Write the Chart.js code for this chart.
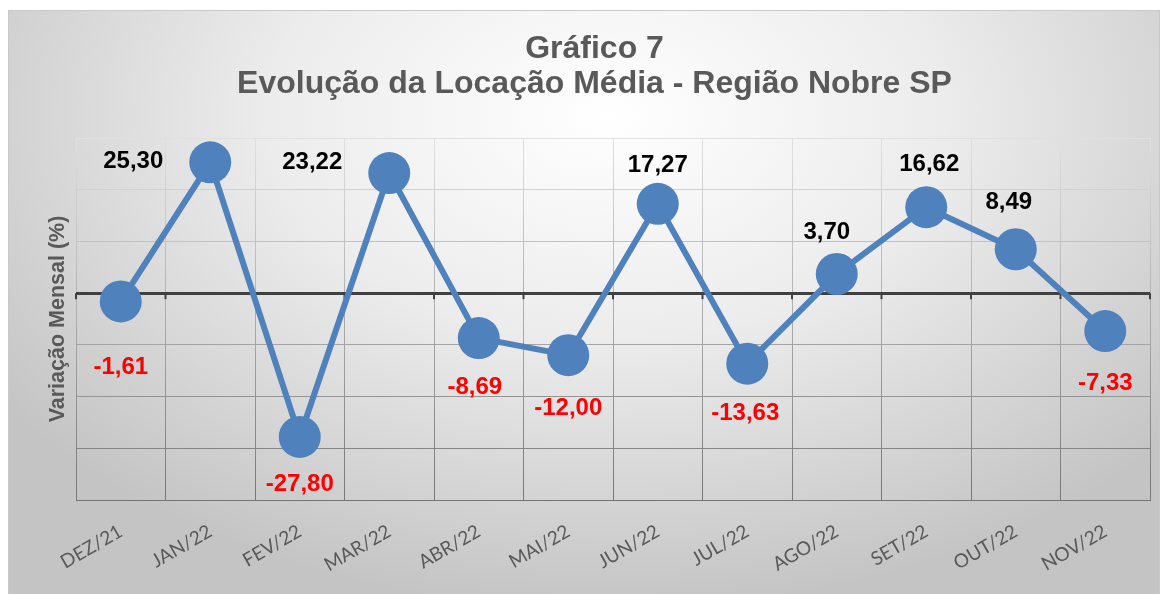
<!DOCTYPE html>
<html>
<head>
<meta charset="utf-8">
<script src="https://cdn.jsdelivr.net/npm/chart.js@4.4.0/dist/chart.umd.min.js"></script>
<style>
html, body { margin: 0; padding: 0; background: #ffffff; }
#box {
    position: absolute; left: 8px; top: 10px; width: 1152px; height: 584px;
    box-sizing: border-box; border: 1px solid #c9c9c9; border-bottom: none;
    background: radial-gradient(ellipse 65% 85% at 52% 18%, #ffffff 0%, #ececec 45%, #c4c4c4 100%);
}
</style>
</head>
<body>
<div id="box"><canvas id="myChart" width="1150" height="583"></canvas></div>
<script>
const months = ['DEZ/21', 'JAN/22', 'FEV/22', 'MAR/22', 'ABR/22', 'MAI/22',
    'JUN/22', 'JUL/22', 'AGO/22', 'SET/22', 'OUT/22', 'NOV/22'];
const variacao = [-1.61, 25.30, -27.80, 23.22, -8.69, -12.00, 17.27, -13.63, 3.70, 16.62, 8.49, -7.33];
const yMin = -40;
const yMax = 30;
const yStep = 10;

// where Excel put each value label, relative to its marker (px)
const labelOffsets = [
    [0, 66], [-77, -1], [0, 47], [-77, -11], [-4, 49], [0, 53],
    [0, -38], [-2, 50], [-10, -42], [3, -43], [-7, -47], [0, 52],
];

function gridColor(ctx) {
    const area = ctx.chart.chartArea;
    if (!area) return '#a6a6a6';
    const g = ctx.chart.ctx.createLinearGradient(0, area.top, 0, area.bottom);
    g.addColorStop(0, '#e0e0e0');
    g.addColorStop(1, '#767676');
    return g;
}

const zeroTicks = {
    id: 'zeroTicks',
    beforeDatasetsDraw(chart) {
        const x = chart.scales.x;
        const y0 = chart.scales.y.getPixelForValue(0);
        const ctx = chart.ctx;
        ctx.save();
        ctx.strokeStyle = '#404040';
        ctx.lineWidth = 2;
        for (let i = 0; i <= months.length; i++) {
            const px = x.left + (x.right - x.left) * i / months.length;
            ctx.beginPath();
            ctx.moveTo(px, y0);
            ctx.lineTo(px, y0 + 6);
            ctx.stroke();
        }
        ctx.restore();
    },
};

const valueLabels = {
    id: 'valueLabels',
    afterDatasetsDraw(chart) {
        const ctx = chart.ctx;
        const meta = chart.getDatasetMeta(0);
        ctx.save();
        ctx.font = 'bold 24px "Liberation Sans", Arial, sans-serif';
        ctx.textAlign = 'center';
        ctx.textBaseline = 'middle';
        meta.data.forEach((pt, i) => {
            const v = variacao[i];
            ctx.fillStyle = v < 0 ? '#ff0000' : '#000000';
            const txt = v.toFixed(2).replace('.', ',');
            ctx.fillText(txt, pt.x + labelOffsets[i][0], pt.y + labelOffsets[i][1]);
        });
        ctx.restore();
    },
};

const data = {
    labels: months,
    datasets: [
        {
            label: 'Variação Mensal (%)',
            data: variacao,
            borderColor: '#4F81BD',
            backgroundColor: '#4F81BD',
            borderWidth: 6,
            pointRadius: 21,
            pointHoverRadius: 21,
            pointBorderWidth: 0,
            tension: 0,
            clip: false,
        },
    ],
};

const config = {
    type: 'line',
    data: data,
    options: {
        responsive: false,
        animation: false,
        layout: { autoPadding: false, padding: { left: 30, right: 9, top: 0, bottom: 0 } },
        plugins: {
            legend: { display: false },
            tooltip: { enabled: false },
            title: {
                display: true,
                text: ['Gráfico 7', 'Evolução da Locação Média - Região Nobre SP'],
                color: '#595959',
                font: { family: '"Liberation Sans", Arial, sans-serif', size: 32, weight: 'bold', lineHeight: '35px' },
                padding: { top: 21, bottom: 36 },
            },
        },
        scales: {
            x: {
                offset: true,
                grid: { offset: true, color: gridColor, lineWidth: 1, drawTicks: false },
                border: { color: '#767676', width: 1 },
                ticks: {
                    autoSkip: false,
                    minRotation: 30,
                    maxRotation: 30,
                    padding: 20,
                    color: '#595959',
                    font: { family: 'Lato, sans-serif', size: 19 },
                },
                afterFit: (s) => {
                    s.height = 94;
                    s.paddingLeft = 0;
                    s.paddingRight = 0;
                },
            },
            y: {
                min: yMin,
                max: yMax,
                ticks: { stepSize: yStep, display: false },
                grid: {
                    drawTicks: false,
                    color: (ctx) => (ctx.tick && ctx.tick.value === 0 ? '#404040' : gridColor(ctx)),
                    lineWidth: (ctx) => (ctx.tick && ctx.tick.value === 0 ? 3 : 1),
                },
                border: { display: false },
                title: {
                    display: true,
                    text: 'Variação Mensal (%)',
                    color: '#595959',
                    font: { family: '"Liberation Sans", Arial, sans-serif', size: 21.5, weight: 'bold' },
                    padding: { top: 6, bottom: 0 },
                },
                afterFit: (s) => { s.width = 37; },
            },
        },
    },
    plugins: [zeroTicks, valueLabels],
};

const myChart = new Chart(document.getElementById('myChart'), config);
</script>
</body>
</html>
